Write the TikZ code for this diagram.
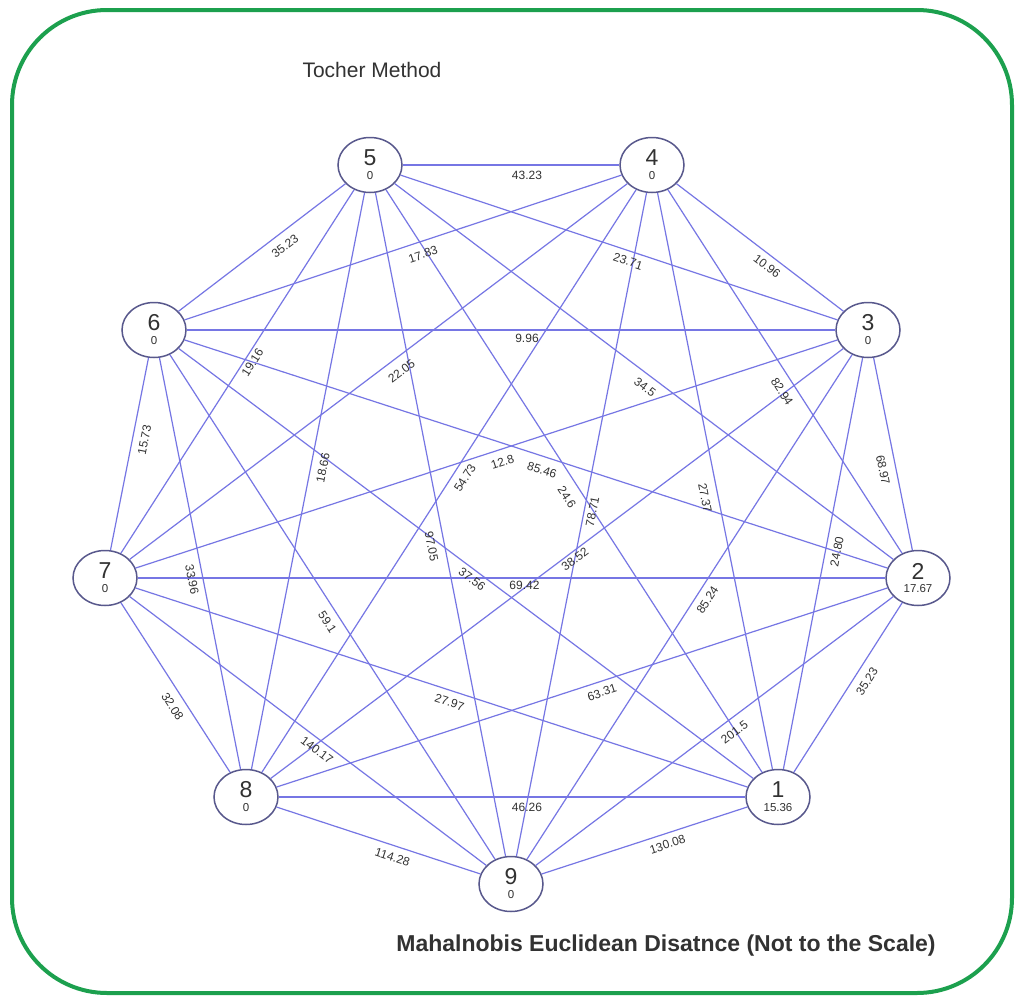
\documentclass[tikz,border=0pt]{standalone}
\usepackage{fontspec}
\setmainfont{Liberation Sans}
\usetikzlibrary{shapes.geometric,calc}
\definecolor{edgeblue}{RGB}{118,118,228}
\definecolor{vtxline}{RGB}{88,88,140}
\definecolor{framegreen}{RGB}{28,160,78}
\definecolor{txt}{RGB}{50,50,50}
\newcommand\elab[5]{\path ($(#1)+(#3,#4)$) -- ($(#2)+(#3,#4)$) node[midway,elbl]{#5};}
\newcommand\vtxnode[4]{\node[vtx,label={[numlbl]center:#3},label={[vallbl]center:#4}] (#1) at #2 {};}
\begin{document}
\begin{tikzpicture}[x=1pt,y=-1pt,
 vtx/.style={ellipse,draw=vtxline,line width=1.5pt,fill=white,minimum width=64pt,minimum height=55pt,inner sep=0pt},
 numlbl/.style={font=\fontsize{23}{23}\selectfont,text=txt,inner sep=0pt,yshift=7pt},
 vallbl/.style={font=\fontsize{11.5}{11.5}\selectfont,text=txt,inner sep=0pt,yshift=-11pt},
 conn/.style={draw=edgeblue,line width=1.2pt},
 elbl/.style={sloped,font=\fontsize{12}{12}\selectfont,text=txt,inner sep=0pt},
 ttl/.style={font=\fontsize{21}{21}\selectfont,text=txt,inner sep=0pt},
 note/.style={font=\bfseries\fontsize{23}{23}\selectfont,text=txt,inner sep=0pt},
]
\useasboundingbox (0,0) rectangle (1021,1001);
\fill[white] (0,0) rectangle (1021,1001);
\draw[framegreen,line width=4pt,rounded corners=95pt] (12,10) rectangle (1012,993);

\vtxnode{n1}{(778,797)}{1}{15.36}
\vtxnode{n2}{(918,578)}{2}{17.67}
\vtxnode{n3}{(868,330)}{3}{0}
\vtxnode{n4}{(652,165)}{4}{0}
\vtxnode{n5}{(370,165)}{5}{0}
\vtxnode{n6}{(154,330)}{6}{0}
\vtxnode{n7}{(105,578)}{7}{0}
\vtxnode{n8}{(246,797)}{8}{0}
\vtxnode{n9}{(511,884)}{9}{0}

\foreach \a/\b in {n5/n4,n5/n6,n6/n4,n5/n3,n4/n3,n6/n3,n7/n4,n7/n5,n5/n2,n8/n4,n7/n3,n6/n2,n5/n1,n4/n9,n8/n3,n7/n2,n6/n1,n5/n9,n4/n1,n4/n2,n3/n2,n3/n1,n3/n9,n6/n7,n5/n8,n6/n8,n6/n9,n7/n8,n7/n9,n7/n1,n8/n9,n8/n1,n8/n2,n9/n2,n2/n1,n9/n1}
  \draw[conn] (\a) -- (\b);

\elab{n5}{n4}{16}{10}{43.23}
\elab{n5}{n6}{23}{-1}{35.23}
\elab{n6}{n4}{20}{7}{17.83}
\elab{n5}{n3}{9}{14}{23.71}
\elab{n4}{n3}{7}{19}{10.96}
\elab{n6}{n3}{16}{8}{9.96}
\elab{n7}{n4}{23}{0}{22.05}
\elab{n7}{n5}{15}{-9}{19.16}
\elab{n5}{n2}{1}{16}{34.5}
\elab{n8}{n4}{16}{-3}{54.73}
\elab{n7}{n3}{16}{8}{12.8}
\elab{n6}{n2}{6}{16}{85.46}
\elab{n5}{n1}{-7}{16}{24.6}
\elab{n4}{n9}{11}{-13}{78.71}
\elab{n8}{n3}{18}{-4}{38.52}
\elab{n7}{n2}{13}{7}{69.42}
\elab{n6}{n1}{6}{16}{37.56}
\elab{n5}{n9}{-9}{22}{97.05}
\elab{n4}{n1}{-10}{17}{27.37}
\elab{n4}{n2}{-3}{20}{82.94}
\elab{n3}{n2}{-10}{16}{68.97}
\elab{n3}{n1}{14}{-12}{24.80}
\elab{n3}{n9}{18}{-7}{85.24}
\elab{n6}{n7}{15}{-14}{15.73}
\elab{n5}{n8}{15}{-13}{18.66}
\elab{n6}{n8}{-8}{16}{33.96}
\elab{n6}{n9}{-5}{15}{59.1}
\elab{n7}{n8}{-3}{19}{32.08}
\elab{n7}{n9}{9}{19}{140.17}
\elab{n7}{n1}{8}{15}{27.97}
\elab{n8}{n9}{14}{17}{114.28}
\elab{n8}{n1}{15}{10}{46.26}
\elab{n8}{n2}{20}{5}{63.31}
\elab{n9}{n2}{20}{1}{201.5}
\elab{n2}{n1}{19}{-6}{35.23}
\elab{n9}{n1}{23}{4}{130.08}

\node[ttl] (title) at (372,70) {Tocher Method};
\node[note] (foot) at (666,946) {Mahalnobis Euclidean Disatnce (Not to the Scale)};
\end{tikzpicture}
\end{document}
